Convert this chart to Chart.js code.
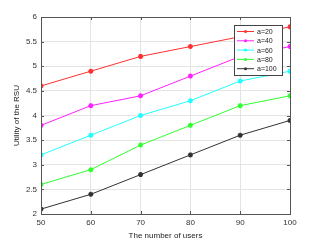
<!DOCTYPE html>
<html>
<head>
<meta charset="utf-8">
<script src="https://cdn.jsdelivr.net/npm/chart.js@4"></script>
<style>
html,body{margin:0;padding:0;background:#fff;}
#wrap{width:321px;height:241px;}
</style>
</head>
<body>
<div id="wrap"><canvas id="rsuChart" width="321" height="241"></canvas></div>
<script>
// data
const users = [50, 60, 70, 80, 90, 100];
const seriesNames = ["a=20", "a=40", "a=60", "a=80", "a=100"];
const a20  = [4.6, 4.9, 5.2, 5.4, 5.6, 5.8];
const a40  = [3.8, 4.2, 4.4, 4.8, 5.2, 5.4];
const a60  = [3.2, 3.6, 4.0, 4.3, 4.7, 4.9];
const a80  = [2.6, 2.9, 3.4, 3.8, 4.2, 4.4];
const a100 = [2.1, 2.4, 2.8, 3.2, 3.6, 3.9];
const colors = ["#ff3030", "#ff20ff", "#20ffff", "#30ff30", "#333333"];

const allSeries = [a20, a40, a60, a80, a100];
const FONT = "'Liberation Sans', Arial, sans-serif";

const datasets = allSeries.map((vals, i) => ({
    label: seriesNames[i],
    data: vals.map((v, j) => ({x: users[j], y: v})),
    borderColor: colors[i],
    backgroundColor: colors[i],
    borderWidth: 1,
    pointStyle: "star",
    pointRadius: 2.5,
    pointBorderWidth: 1.5,
    tension: 0
}));

// box around the plot area, inward ticks, legend box in the top right corner
const boxPlugin = {
    id: "boxLegend",
    afterDraw(chart) {
        const c = chart.ctx;
        const a = chart.chartArea;
        c.save();
        c.strokeStyle = "#555";
        c.lineWidth = 1;
        c.strokeRect(a.left + 0.5, a.top + 0.5, a.right - a.left, a.bottom - a.top);

        // small inward tick marks like the original
        const xs = chart.scales.x, ys = chart.scales.y;
        c.beginPath();
        xs.ticks.forEach(t => {
            const px = Math.round(xs.getPixelForValue(t.value)) + 0.5;
            c.moveTo(px, a.bottom); c.lineTo(px, a.bottom - 3);
            c.moveTo(px, a.top); c.lineTo(px, a.top + 3);
        });
        ys.ticks.forEach(t => {
            const py = Math.round(ys.getPixelForValue(t.value)) + 0.5;
            c.moveTo(a.left, py); c.lineTo(a.left + 3, py);
            c.moveTo(a.right, py); c.lineTo(a.right - 3, py);
        });
        c.stroke();

        const bx = 234, by = 25, bw = 48, bh = 50;
        c.fillStyle = "#fff";
        c.fillRect(bx, by, bw, bh);
        c.strokeStyle = "#444";
        c.strokeRect(bx + 0.5, by + 0.5, bw, bh);
        c.font = "7px " + FONT;
        c.textBaseline = "middle";
        chart.data.datasets.forEach((ds, i) => {
            const y = by + 6.5 + i * 9.3;
            c.strokeStyle = ds.borderColor;
            c.lineWidth = 1;
            c.beginPath();
            c.moveTo(bx + 3, y);
            c.lineTo(bx + 20, y);
            c.stroke();
            c.fillStyle = ds.borderColor;
            c.beginPath();
            c.arc(bx + 11.5, y, 1.5, 0, Math.PI * 2);
            c.fill();
            c.fillStyle = "#222";
            c.fillText(ds.label, bx + 23, y + 0.5);
        });
        c.restore();
    }
};

new Chart(document.getElementById("rsuChart"), {
    type: "line",
    data: { datasets: datasets },
    plugins: [boxPlugin],
    options: {
        responsive: false,
        animation: false,
        layout: { padding: { top: 17, right: 31, left: 0, bottom: 0 } },
        plugins: {
            legend: { display: false },
            tooltip: { enabled: false }
        },
        scales: {
            x: {
                type: "linear",
                min: 50,
                max: 100,
                ticks: {
                    stepSize: 10,
                    color: "#333",
                    font: { size: 8, family: FONT },
                    padding: 4,
                    maxRotation: 0
                },
                grid: { color: "#e4e4e4", drawTicks: false },
                border: { display: false },
                title: {
                    display: true,
                    text: "The number of users",
                    color: "#222",
                    font: { size: 8, family: FONT },
                    padding: { top: 2, bottom: 0 }
                },
                afterFit(scale) { scale.height = 27; }
            },
            y: {
                min: 2,
                max: 6,
                ticks: {
                    stepSize: 0.5,
                    color: "#333",
                    font: { size: 8, family: FONT },
                    padding: 4,
                    callback: v => String(v)
                },
                grid: { color: "#e4e4e4", drawTicks: false },
                border: { display: false },
                title: {
                    display: true,
                    text: "Utility of the RSU",
                    color: "#222",
                    font: { size: 8, family: FONT },
                    padding: { top: 12, bottom: 0 }
                },
                afterFit(scale) { scale.width = 41; }
            }
        }
    }
});
</script>
</body>
</html>
